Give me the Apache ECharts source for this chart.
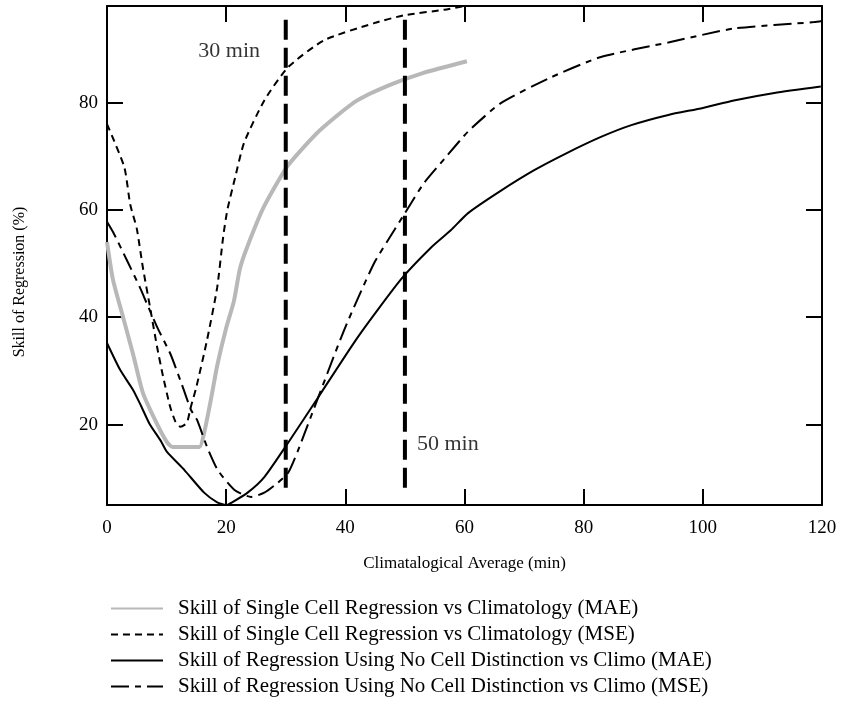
<!DOCTYPE html>
<html>
<head>
<meta charset="utf-8">
<script src="https://cdn.jsdelivr.net/npm/echarts@6/dist/echarts.min.js"></script>
<style>
html,body{margin:0;padding:0;background:#fff;}
#chart{width:846px;height:713px;}
</style>
</head>
<body>
<div id="chart"></div>
<script>
// ---- data ----
var seriesNames = [
  'Skill of Single Cell Regression vs Climatology (MAE)',
  'Skill of Single Cell Regression vs Climatology (MSE)',
  'Skill of Regression Using No Cell Distinction vs Climo (MAE)',
  'Skill of Regression Using No Cell Distinction vs Climo (MSE)'
];
var singleMaeX = [0, 1, 2.7, 4.4, 6, 8, 10, 11, 13, 15.5, 16.3, 17.5, 18.5, 20, 21.3, 22.3, 23.5, 26.3, 30.2, 33.6, 36.3, 42, 47.5, 53, 60.4];
var singleMaeY = [54, 47, 40, 33, 26, 21, 16.8, 15.8, 15.8, 15.8, 18.4, 25, 31, 38, 43, 49, 53, 60.5, 68, 72.4, 75.4, 80.4, 83.3, 85.5, 87.7];

var singleMseX = [0, 2.9, 3.9, 5, 6, 7.2, 8.4, 9.4, 10.6, 11.5, 12.3, 13.4, 14, 15, 16.8, 18.5, 19.5, 20.2, 21.5, 23, 26.4, 30.4, 36.4, 44.8, 50, 56.6, 60];
var singleMseY = [76, 68, 61, 56.5, 49.4, 42, 34.5, 29, 23.3, 20.5, 19.6, 20.3, 23, 27, 35.8, 45.6, 55, 60, 66, 72.5, 80.4, 86.6, 91.6, 94.8, 96.3, 97.3, 98];

var pooledMaeX = [0, 2.2, 4.4, 5.7, 7.2, 9, 10, 13, 16.3, 18.5, 20, 21, 23.6, 26.4, 30.4, 35.4, 42.1, 49.3, 54.4, 57.7, 60.6, 66, 71.7, 77, 82.9, 88, 94.2, 100, 105.2, 112, 119.8];
var pooledMaeY = [35.2, 30.2, 26.4, 23.5, 20, 17, 15, 11.5, 7.3, 5.5, 5, 5.5, 7.3, 10.2, 16.6, 25, 36.3, 47, 53, 56.2, 59.4, 63.5, 67.4, 70.5, 73.6, 75.8, 77.7, 79, 80.4, 81.8, 83];

var pooledMseX = [0, 1.1, 3.3, 5.5, 6.2, 8.4, 10.7, 12.9, 14.1, 15.1, 16.8, 18.6, 21.4, 24.2, 26.4, 28.5, 30.4, 32, 34.2, 39.8, 44.8, 48.2, 50, 53.2, 57, 60.6, 66.1, 74.5, 82.9, 94.2, 105.2, 118.7, 120];
var pooledMseY = [57.8, 55.7, 50.7, 45.6, 43.8, 38.2, 33, 26.4, 22.7, 20.9, 15.8, 11.5, 7.8, 6.5, 7.3, 9, 11, 15, 21.4, 37.6, 50, 56.2, 59.4, 65, 70, 74.6, 79.9, 84.7, 88.5, 91.2, 93.8, 95, 95.2];

var markerTimes = [30, 50];          // vertical reference lines (min)
var markerSpan = [8.2, 96.5];        // y extent of reference lines
var markerLabels = ['30 min', '50 min'];
var markerLabelAt = [[20.5, 89.5], [57.2, 16.4]];

var xTicks = [0, 20, 40, 60, 80, 100, 120];
var yTicks = [20, 40, 60, 80];

function zip(xs, ys) { return xs.map(function (x, i) { return [x, ys[i]]; }); }

var FONT = '"Liberation Serif", "DejaVu Serif", serif';

var chart = echarts.init(document.getElementById('chart'), null, {renderer: 'canvas'});

function axisLine() { return {show: true, onZero: false, lineStyle: {color: '#000', width: 2}}; }
function tickStyle(extra) {
  var t = {show: true, inside: true, length: 16, lineStyle: {color: '#000', width: 2}};
  if (extra) { for (var k in extra) { t[k] = extra[k]; } }
  return t;
}

var series = [
  {
    name: seriesNames[0], type: 'line', data: zip(singleMaeX, singleMaeY),
    symbol: 'none', smooth: 0.2,
    lineStyle: {color: '#b8b8b8', width: 4, type: 'solid'}, itemStyle: {color: '#b8b8b8'}, z: 3
  },
  {
    name: seriesNames[1], type: 'line', data: zip(singleMseX, singleMseY),
    symbol: 'none', smooth: 0.2,
    lineStyle: {color: '#000', width: 2, type: [7, 5]}, itemStyle: {color: '#000'}, z: 4
  },
  {
    name: seriesNames[2], type: 'line', data: zip(pooledMaeX, pooledMaeY),
    symbol: 'none', smooth: 0.2,
    lineStyle: {color: '#000', width: 2, type: 'solid'}, itemStyle: {color: '#000'}, z: 4
  },
  {
    name: seriesNames[3], type: 'line', data: zip(pooledMseX, pooledMseY),
    symbol: 'none', smooth: 0.2,
    lineStyle: {color: '#000', width: 2, type: [18, 6, 6, 6]}, itemStyle: {color: '#000'}, z: 4
  }
];

markerTimes.forEach(function (t) {
  series.push({
    name: 'ref' + t, type: 'line', data: [[t, markerSpan[0]], [t, markerSpan[1]]],
    symbol: 'none', silent: true,
    lineStyle: {color: '#000', width: 4, type: [20, 8]}, z: 5
  });
});

series.push({
  name: 'labels', type: 'scatter', silent: true, symbolSize: 1,
  itemStyle: {color: 'rgba(0,0,0,0)'},
  data: markerLabelAt.map(function (p, i) { return {value: p, label: {formatter: markerLabels[i]}}; }),
  label: {show: true, position: 'inside', color: '#000', fontFamily: FONT, fontSize: 22}
});

chart.setOption({
  animation: false,
  backgroundColor: '#fff',
  grid: {left: 107, right: 24, top: 6, bottom: 208, containLabel: false},
  legend: {
    data: seriesNames,
    orient: 'vertical', left: 105, top: 593,
    itemWidth: 52, itemHeight: 14, itemGap: 5,
    itemStyle: {opacity: 0},
    textStyle: {fontFamily: FONT, fontSize: 21, color: '#000', padding: [0, 0, 0, 10]},
    selectedMode: false
  },
  graphic: [{
    type: 'text', x: 20, y: 282, rotation: Math.PI / 2,
    style: {text: 'Skill of Regression (%)', fontFamily: FONT, fontSize: 16, fill: '#000',
            textAlign: 'center', textVerticalAlign: 'middle'}
  }],
  xAxis: [
    {
      type: 'value', min: xTicks[0], max: xTicks[xTicks.length - 1], interval: 20,
      position: 'bottom',
      name: 'Climatalogical Average (min)', nameLocation: 'middle', nameGap: 50,
      nameTextStyle: {fontFamily: FONT, fontSize: 17, color: '#000'},
      axisLine: axisLine(), axisTick: tickStyle(), splitLine: {show: false},
      axisLabel: {fontFamily: FONT, fontSize: 19, color: '#000', margin: 14, showMinLabel: true, showMaxLabel: true}
    },
    {
      type: 'value', min: xTicks[0], max: xTicks[xTicks.length - 1], interval: 20,
      position: 'top',
      axisLine: axisLine(), axisTick: tickStyle(), splitLine: {show: false}, axisLabel: {show: false}
    }
  ],
  yAxis: [
    {
      type: 'value', min: 5, max: 98, position: 'left',
      axisLine: axisLine(), splitLine: {show: false},
      axisTick: tickStyle({customValues: yTicks}),
      axisLabel: {customValues: yTicks, fontFamily: FONT, fontSize: 19, color: '#000', margin: 9}
    },
    {
      type: 'value', min: 5, max: 98, position: 'right',
      axisLine: axisLine(), splitLine: {show: false},
      axisTick: tickStyle({customValues: yTicks}),
      axisLabel: {show: false, customValues: yTicks}
    }
  ],
  series: series
});
</script>
</body>
</html>
